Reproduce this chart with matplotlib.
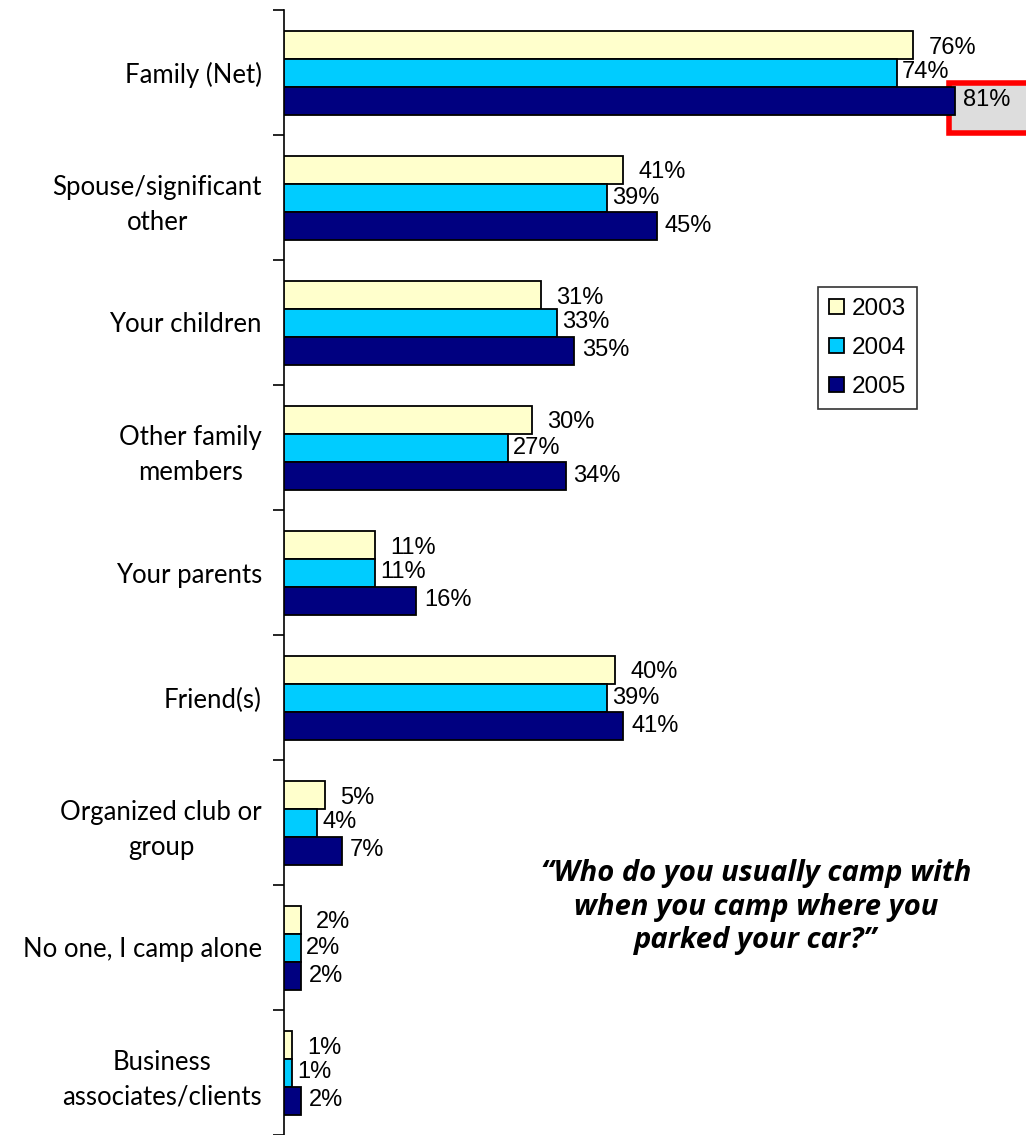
import matplotlib.pyplot as plt
from matplotlib.patches import Rectangle
import numpy as np

categories = ["Family (Net)", "Spouse/significant\nother", "Your children",
              "Other family\nmembers", "Your parents", "Friend(s)",
              "Organized club or\ngroup", "No one, I camp alone",
              "Business\nassociates/clients"]
years = ["2003", "2004", "2005"]
pct_2003 = [76, 41, 31, 30, 11, 40, 5, 2, 1]
pct_2004 = [74, 39, 33, 27, 11, 39, 4, 2, 1]
pct_2005 = [81, 45, 35, 34, 16, 41, 7, 2, 2]
question = "\u201cWho do you usually camp with\nwhen you camp where you\nparked your car?\u201d"

colors = ["#FFFFCC", "#00CCFF", "#000080"]
label_dx = [15, 5, 8]     # px offset of value labels per series
label_dy = [-3, 0, 0]

W, H = 1026, 1135
fig = plt.figure(figsize=(W / 100, H / 100), dpi=100)
ax = fig.add_axes([284 / W, 0, 1 - 284 / W, 1 - 10 / H])

n = len(categories)
y = np.arange(n)
bh = 0.224
series = [pct_2003, pct_2004, pct_2005]
for k, vals in enumerate(series):
    pos = y + (k - 1) * bh
    ax.barh(pos, vals, height=bh, color=colors[k], edgecolor="black",
            linewidth=1.3, label=years[k], zorder=3)
    for p, v in zip(pos, vals):
        ax.annotate(f"{v}%", xy=(v, p), xytext=(label_dx[k], label_dy[k]),
                    textcoords="offset pixels", ha="left", va="center",
                    fontsize=17, family="Liberation Sans", zorder=5)

# highlight box around the top 2005 value
top = pct_2005[0]
ax.add_patch(Rectangle((top - 0.7, 0.08), 20, 0.40, facecolor="#DDDDDD",
                       edgecolor="#FF0000", linewidth=4, clip_on=False, zorder=2))

ax.set_xlim(0, (W - 284) / 8.28)
ax.set_ylim(n - 0.5, -0.5)
ax.set_yticks(y)
ax.set_yticklabels(categories, family="Lato", fontsize=18.5, linespacing=1.5,
                   multialignment="center")
ax.set_yticks(np.arange(n + 1) - 0.5, minor=True)
ax.tick_params(axis="y", which="major", length=0, pad=16)
ax.tick_params(axis="y", which="minor", length=8, width=1.2, direction="out")
ax.set_xticks([])
for s in ["top", "right", "bottom"]:
    ax.spines[s].set_visible(False)
ax.spines["left"].set_linewidth(1.2)

leg = fig.legend(loc="upper left", bbox_to_anchor=(818 / W, 1 - 287 / H),
                 frameon=True, fancybox=False, edgecolor="black",
                 prop={"family": "Liberation Sans", "size": 17.5},
                 handlelength=0.6, handleheight=0.6, handletextpad=0.35,
                 labelspacing=0.7, borderpad=0.45, borderaxespad=0)
leg.get_frame().set_linewidth(1.2)

fig.text(756 / W, 1 - 907 / H, question, ha="center", va="center",
         family="Open Sans", fontsize=21, fontweight="bold", style="italic",
         linespacing=1.2)

fig.savefig("out.png", dpi=100)
